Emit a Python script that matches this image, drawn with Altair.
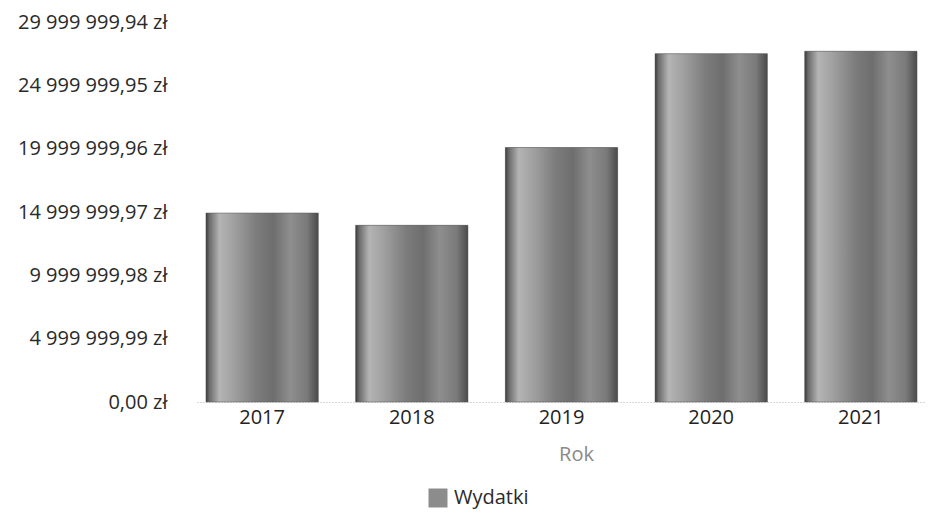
import altair as alt
import pandas as pd

years = ["2017", "2018", "2019", "2020", "2021"]
wydatki = [14920000, 13950000, 20090000, 27500000, 27690000]
series_name = "Wydatki"
tick_values = [0, 4999999.99, 9999999.98, 14999999.97, 19999999.96, 24999999.95, 29999999.94]

df = pd.DataFrame({"Rok": years, "Wartość": wydatki, "Seria": [series_name] * len(years)})

FONT = "Open Sans"

x_enc = alt.X(
    "Rok:N",
    title="Rok",
    scale=alt.Scale(paddingInner=0.25, paddingOuter=0.06),
    axis=alt.Axis(
        labelAngle=0,
        labelFontSize=20,
        labelColor="#222222",
        labelPadding=5,
        ticks=False,
        domainColor="#b0b0b0",
        domainDash=[1, 2],
        domainWidth=1,
        titleFontSize=20,
        titleFontWeight="normal",
        titleColor="#8a8a8a",
        titlePadding=17,
        titleX=379,
    ),
)
y_enc = alt.Y(
    "Wartość:Q",
    title=None,
    scale=alt.Scale(domain=[0, tick_values[-1]], nice=False, zero=True),
    axis=alt.Axis(
        values=tick_values,
        labelExpr="replace(replace(format(datum.value, ',.2f'), regexp(',', 'g'), ' '), '.', ',') + ' zł'",
        labelFontSize=20,
        labelColor="#2a2a2a",
        labelPadding=30,
        ticks=False,
        domain=False,
        grid=False,
    ),
)

legend_layer = alt.Chart(df).mark_bar().encode(
    x=x_enc,
    y=y_enc,
    color=alt.Color(
        "Seria:N",
        title=None,
        scale=alt.Scale(range=["#8c8c8c"]),
        legend=alt.Legend(
            orient="none",
            legendX=231,
            legendY=466,
            symbolType="square",
            symbolSize=361,
            symbolStrokeWidth=0,
            labelFontSize=20,
            labelColor="#2a2a2a",
            labelOffset=6,
            padding=0,
        ),
    ),
)

gradient = alt.LinearGradient(
    gradient="linear",
    x1=0, x2=1, y1=0, y2=0,
    stops=[
        alt.GradientStop(offset=0.0, color="#3c3c3c"),
        alt.GradientStop(offset=0.03, color="#6a6a6a"),
        alt.GradientStop(offset=0.12, color="#b4b4b4"),
        alt.GradientStop(offset=0.25, color="#a0a0a0"),
        alt.GradientStop(offset=0.45, color="#7c7c7c"),
        alt.GradientStop(offset=0.6, color="#6e6e6e"),
        alt.GradientStop(offset=0.75, color="#8e8e8e"),
        alt.GradientStop(offset=0.9, color="#7a7a7a"),
        alt.GradientStop(offset=1.0, color="#4a4a4a"),
    ],
)

bars = alt.Chart(df).mark_bar(color=gradient, stroke="#555555", strokeWidth=0.5).encode(
    x=x_enc,
    y=y_enc,
)

chart = (
    alt.layer(legend_layer, bars)
    .properties(
        width=729,
        height=380,
        autosize=alt.AutoSizeParams(type="none"),
        padding={"left": 189, "top": 14, "right": 0, "bottom": 111},
        background="white",
    )
    .configure(font=FONT)
    .configure_view(stroke=None)
)

chart.save("out.html", embed_options={"renderer": "svg", "actions": False})
